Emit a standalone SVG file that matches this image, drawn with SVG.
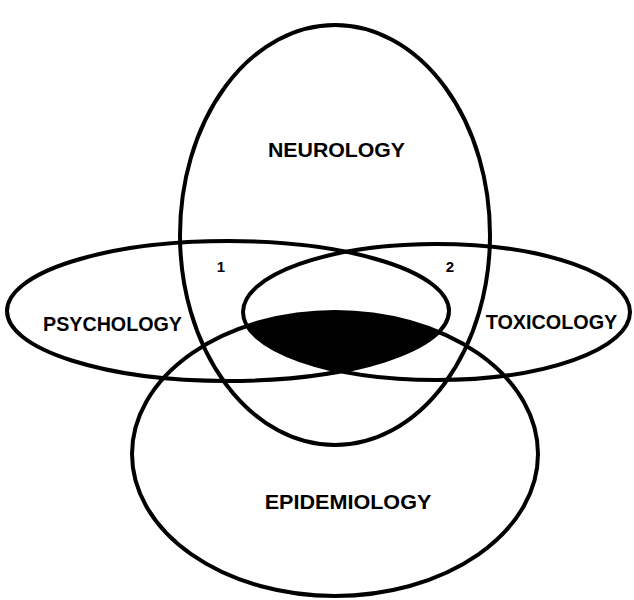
<svg xmlns="http://www.w3.org/2000/svg" width="634" height="600" viewBox="0 0 634 600">
<style>
.ring{fill:none;stroke:#000;stroke-width:4}
.lbl{font-family:"Liberation Sans",Arial,sans-serif;font-weight:bold;font-size:21px;fill:#000;text-anchor:middle}
.num{font-family:"Liberation Sans",Arial,sans-serif;font-weight:bold;font-size:15px;fill:#000;text-anchor:middle}
</style>
<defs>
<clipPath id="cPsy"><ellipse cx="228" cy="311" rx="221" ry="70"/></clipPath>
<clipPath id="cTox"><ellipse cx="436.5" cy="312" rx="193.5" ry="68"/></clipPath>
</defs>
<rect width="634" height="600" fill="#fff"/>
<g id="core" clip-path="url(#cPsy)"><g clip-path="url(#cTox)"><ellipse cx="335" cy="454" rx="203" ry="142" fill="#000"/></g></g>
<g id="neurology">
<ellipse class="ring" cx="335" cy="235" rx="155" ry="210"/>
<text class="lbl" x="336.5" y="157" textLength="137" lengthAdjust="spacingAndGlyphs">NEUROLOGY</text>
</g>
<g id="psychology">
<ellipse class="ring" cx="228" cy="311" rx="221" ry="70"/>
<text class="lbl" x="112.5" y="331" textLength="139" lengthAdjust="spacingAndGlyphs">PSYCHOLOGY</text>
</g>
<g id="toxicology">
<ellipse class="ring" cx="436.5" cy="312" rx="193.5" ry="68"/>
<text class="lbl" x="551.5" y="329" textLength="131.6" lengthAdjust="spacingAndGlyphs">TOXICOLOGY</text>
</g>
<g id="epidemiology">
<ellipse class="ring" cx="335" cy="454" rx="203" ry="142"/>
<text class="lbl" x="348" y="509" textLength="166.7" lengthAdjust="spacingAndGlyphs">EPIDEMIOLOGY</text>
</g>
<g id="region1"><text class="num" x="221" y="272">1</text></g>
<g id="region2"><text class="num" x="450" y="272">2</text></g>
<g id="connectors"/>
</svg>
